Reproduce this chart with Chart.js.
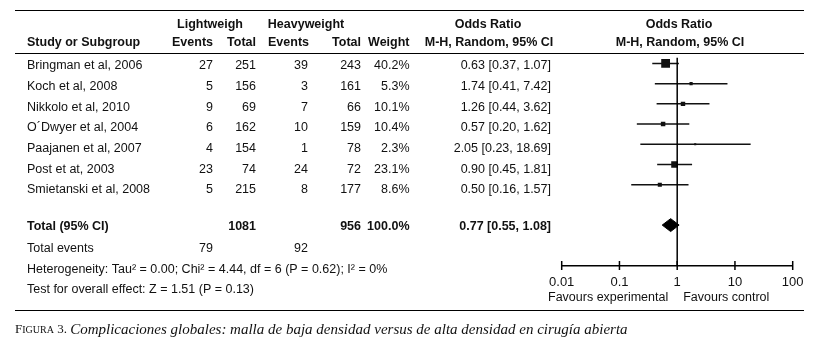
<!DOCTYPE html>
<html>
<head>
<meta charset="utf-8">
<script src="https://cdn.jsdelivr.net/npm/chart.js@4"></script>
<style>
  html, body { margin: 0; padding: 0; background: #fff; }
  #wrap { position: relative; width: 816px; height: 349px; }
</style>
</head>
<body>
<div id="wrap"><canvas id="forest" width="816" height="349"></canvas></div>
<script>
// data
const studies = ["Bringman et al, 2006", "Koch et al, 2008", "Nikkolo et al, 2010", "O´Dwyer et al, 2004",
                 "Paajanen et al, 2007", "Post et at, 2003", "Smietanski et al, 2008"];
const lightEvents = [27, 5, 9, 6, 4, 23, 5];
const lightTotal = [251, 156, 69, 162, 154, 74, 215];
const heavyEvents = [39, 3, 7, 10, 1, 24, 8];
const heavyTotal = [243, 161, 66, 159, 78, 72, 177];
const weights = [40.2, 5.3, 10.1, 10.4, 2.3, 23.1, 8.6];
const oddsRatio = [0.63, 1.74, 1.26, 0.57, 2.05, 0.90, 0.50];
const ciLow = [0.37, 0.41, 0.44, 0.20, 0.23, 0.45, 0.16];
const ciHigh = [1.07, 7.42, 3.62, 1.62, 18.69, 1.81, 1.57];
const totalOR = [0.77];
const totalLow = [0.55];
const totalHigh = [1.08];
const totalCounts = [1081, 956];
const totalEvents = [79, 92];
const tickVals = [0.01, 0.1, 1, 10, 100];
const tickLabels = ["0.01", "0.1", "1", "10", "100"];

const INK = "#111";
const FONT = '"Liberation Sans", Arial, sans-serif';
const totalRow = studies.length + 1;   // one blank row before the total

const fmt = v => v.toFixed(2);
const orText = (o, l, h) => fmt(o) + " [" + fmt(l) + ", " + fmt(h) + "]";

// CI whiskers, one line per study
const ciSets = studies.map((s, i) => ({
  data: [{ x: ciLow[i], y: i }, { x: ciHigh[i], y: i }],
  showLine: true,
  borderColor: INK,
  borderWidth: 1.5,
  pointRadius: 0
}));

// square side ~ sqrt(weight)
const squareSets = [{
  data: studies.map((s, i) => ({ x: oddsRatio[i], y: i })),
  pointStyle: "rect",
  pointRadius: weights.map(w => 8.8 * Math.sqrt(w / 40.2) / Math.SQRT2),
  backgroundColor: INK,
  borderColor: INK,
  borderWidth: 0
}];

const diamond = {
  data: [
    { x: totalLow[0], y: totalRow },
    { x: totalOR[0], y: totalRow - 0.32 },
    { x: totalHigh[0], y: totalRow },
    { x: totalOR[0], y: totalRow + 0.32 },
    { x: totalLow[0], y: totalRow }
  ],
  showLine: true,
  fill: "shape",
  backgroundColor: "#000",
  borderColor: "#000",
  borderWidth: 1,
  pointRadius: 0
};

const noEffect = {
  data: [{ x: 1, y: -0.3 }, { x: 1, y: 10 }],
  showLine: true,
  borderColor: "#000",
  borderWidth: 1.5,
  pointRadius: 0
};

function txt(ctx, s, x, y, align, bold) {
  ctx.font = (bold ? "bold 12.5px " : "12.5px ") + FONT;
  ctx.textAlign = align;
  ctx.fillText(s, x, y);
}

const tablePlugin = {
  id: "table",
  afterDraw(chart) {
    const ctx = chart.ctx;
    const xs = chart.scales.x;
    ctx.save();
    ctx.fillStyle = INK;
    ctx.strokeStyle = "#000";
    ctx.textBaseline = "middle";

    // rules
    ctx.lineWidth = 1.2;
    [[10.5, 15, 804], [53.5, 15, 804], [310.5, 15, 804]].forEach(r => {
      ctx.beginPath(); ctx.moveTo(r[1], r[0]); ctx.lineTo(r[2], r[0]); ctx.stroke();
    });

    // headers
    txt(ctx, "Lightweigh", 210, 25, "center", true);
    txt(ctx, "Heavyweight", 306, 25, "center", true);
    txt(ctx, "Odds Ratio", 488, 25, "center", true);
    txt(ctx, "Odds Ratio", 679, 25, "center", true);
    txt(ctx, "Study or Subgroup", 27, 43, "left", true);
    txt(ctx, "Events", 213, 43, "right", true);
    txt(ctx, "Total", 256, 43, "right", true);
    txt(ctx, "Events", 309, 43, "right", true);
    txt(ctx, "Total", 361, 43, "right", true);
    txt(ctx, "Weight", 409.5, 43, "right", true);
    txt(ctx, "M-H, Random, 95% CI", 489, 43, "center", true);
    txt(ctx, "M-H, Random, 95% CI", 680, 43, "center", true);

    // study rows
    studies.forEach((s, i) => {
      const y = 65.7 + i * 20.7;
      txt(ctx, s, 27, y, "left");
      txt(ctx, String(lightEvents[i]), 213, y, "right");
      txt(ctx, String(lightTotal[i]), 256, y, "right");
      txt(ctx, String(heavyEvents[i]), 308, y, "right");
      txt(ctx, String(heavyTotal[i]), 361, y, "right");
      txt(ctx, weights[i].toFixed(1) + "%", 409.5, y, "right");
      txt(ctx, orText(oddsRatio[i], ciLow[i], ciHigh[i]), 551, y, "right");
    });

    // totals
    txt(ctx, "Total (95% CI)", 27, 226.7, "left", true);
    txt(ctx, String(totalCounts[0]), 256, 226.7, "right", true);
    txt(ctx, String(totalCounts[1]), 361, 226.7, "right", true);
    txt(ctx, "100.0%", 409.5, 226.7, "right", true);
    txt(ctx, orText(totalOR[0], totalLow[0], totalHigh[0]), 551, 226.7, "right", true);
    txt(ctx, "Total events", 27, 248.3, "left");
    txt(ctx, String(totalEvents[0]), 213, 248.3, "right");
    txt(ctx, String(totalEvents[1]), 308, 248.3, "right");
    txt(ctx, "Heterogeneity: Tau² = 0.00; Chi² = 4.44, df = 6 (P = 0.62); I² = 0%", 27, 269.5, "left");
    txt(ctx, "Test for overall effect: Z = 1.51 (P = 0.13)", 27, 289.5, "left");

    // axis tick marks crossing the axis line
    const ay = xs.top;
    ctx.lineWidth = 1.5;
    tickVals.forEach(v => {
      const px = xs.getPixelForValue(v);
      ctx.beginPath(); ctx.moveTo(px, ay - 4.5); ctx.lineTo(px, ay + 4.5); ctx.stroke();
    });
    const one = xs.getPixelForValue(1);
    txt(ctx, "Favours experimental", one - 9, 297.5, "right");
    txt(ctx, "Favours control", one + 6, 297.5, "left");

    // caption
    let cx = 15;
    ctx.textAlign = "left";
    ctx.font = '13px "Liberation Serif", serif';
    ctx.fillText("F", cx, 330); cx += ctx.measureText("F").width;
    ctx.font = '10px "Liberation Serif", serif';
    ctx.fillText("IGURA", cx, 330.8); cx += ctx.measureText("IGURA").width;
    ctx.font = '13px "Liberation Serif", serif';
    ctx.fillText(" 3. ", cx, 330); cx += ctx.measureText(" 3. ").width;
    ctx.font = 'italic 15px "Liberation Serif", serif';
    ctx.fillText("Complicaciones globales: malla de baja densidad versus de alta densidad en cirugía abierta", cx, 330);
    ctx.restore();
  }
};

new Chart(document.getElementById("forest"), {
  type: "scatter",
  data: { datasets: [noEffect, ...ciSets, ...squareSets, diamond] },
  options: {
    responsive: false,
    animation: false,
    events: [],
    devicePixelRatio: 1,
    layout: { padding: { left: 561.7, right: 23.3, top: 57.4, bottom: 53.5 } },
    plugins: { legend: { display: false }, tooltip: { enabled: false } },
    scales: {
      x: {
        type: "logarithmic",
        min: 0.01,
        max: 100,
        afterBuildTicks: s => { s.ticks = tickVals.map(v => ({ value: v })); },
        afterFit: s => { s.height = 30; },
        grid: { display: false },
        border: { display: true, color: "#000", width: 1.5 },
        ticks: {
          padding: 1,
          color: INK,
          font: { family: FONT, size: 13 },
          maxRotation: 0,
          autoSkip: false,
          callback: (v, i) => tickLabels[i]
        }
      },
      y: {
        type: "linear",
        display: false,
        reverse: true,
        min: -0.3,
        max: 10
      }
    }
  },
  plugins: [tablePlugin]
});
</script>
</body>
</html>
